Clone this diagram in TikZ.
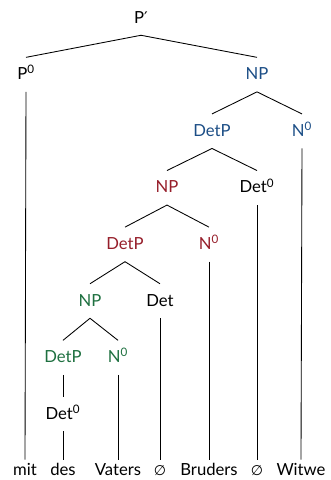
\documentclass[tikz,border=0pt]{standalone}
\usepackage{fontspec}
\setmainfont{Lato}
\newfontfamily\symfont{DejaVu Sans}
\definecolor{npblue}{RGB}{28,78,134}
\definecolor{npred}{RGB}{150,30,42}
\definecolor{npgreen}{RGB}{30,112,64}
\newcommand{\zero}{\textsuperscript{0}}
\newcommand{\nullsym}{{\symfont\fontsize{10.5}{12}\selectfont ∅}}
\newcommand{\primesym}{{\symfont\fontsize{12}{14}\selectfont ′}}
\tikzset{
  cat/.style={anchor=base, font=\fontsize{12.5}{15}\selectfont, text height=7.5pt, text depth=0pt, inner xsep=0pt, inner ysep=9pt},
  word/.style={cat, inner ysep=4.5pt},
  branch/.style={line width=0.65pt, black}
}
\begin{document}
\begin{tikzpicture}[x=0.75pt,y=-0.75pt]
  \useasboundingbox (0,0) rectangle (331,480);
  % level baselines: 23 + 56.6 k
  \node[cat] (Pbar) at (141,23) {P\primesym};
  \node[cat] (P0) at (26,79.6) {P\zero};
  \node[cat, npblue] (NP1) at (257,79.6) {NP};
  \node[cat, npblue] (DetP1) at (212,136.2) {DetP};
  \node[cat, npblue] (N1) at (302,136.2) {N\zero};
  \node[cat, npred] (NP2) at (167,192.8) {NP};
  \node[cat] (Det0a) at (257,192.8) {Det\zero};
  \node[cat, npred] (DetP2) at (125,249.4) {DetP};
  \node[cat, npred] (N2) at (209,249.4) {N\zero};
  \node[cat, npgreen] (NP3) at (90,306) {NP};
  \node[cat] (Det) at (160,306) {Det};
  \node[cat, npgreen] (DetP3) at (63,362.6) {DetP};
  \node[cat, npgreen] (N3) at (118,362.6) {N\zero};
  \node[cat] (Det0b) at (63,419.2) {Det\zero};
  % terminal words
  \node[word] (w1) at (25,475.8) {mit};
  \node[word] (w2) at (63,475.8) {des};
  \node[word] (w3) at (118,475.8) {Vaters};
  \node[word] (w4) at (160,475.8) {\nullsym};
  \node[word] (w5) at (209,475.8) {Bruders};
  \node[word] (w6) at (257,475.8) {\nullsym};
  \node[word] (w7) at (301,475.8) {Witwe};
  % branches
  \draw[branch] (Pbar.south) -- (P0.north);
  \draw[branch] (Pbar.south) -- (NP1.north);
  \draw[branch] (P0.south) -- (w1.north);
  \draw[branch] (NP1.south) -- (DetP1.north);
  \draw[branch] (NP1.south) -- (N1.north);
  \draw[branch] (N1.south) -- (w7.north);
  \draw[branch] (DetP1.south) -- (NP2.north);
  \draw[branch] (DetP1.south) -- (Det0a.north);
  \draw[branch] (Det0a.south) -- (w6.north);
  \draw[branch] (NP2.south) -- (DetP2.north);
  \draw[branch] (NP2.south) -- (N2.north);
  \draw[branch] (N2.south) -- (w5.north);
  \draw[branch] (DetP2.south) -- (NP3.north);
  \draw[branch] (DetP2.south) -- (Det.north);
  \draw[branch] (Det.south) -- (w4.north);
  \draw[branch] (NP3.south) -- (DetP3.north);
  \draw[branch] (NP3.south) -- (N3.north);
  \draw[branch] (N3.south) -- (w3.north);
  \draw[branch] (DetP3.south) -- (Det0b.north);
  \draw[branch] (Det0b.south) -- (w2.north);
\end{tikzpicture}
\end{document}
